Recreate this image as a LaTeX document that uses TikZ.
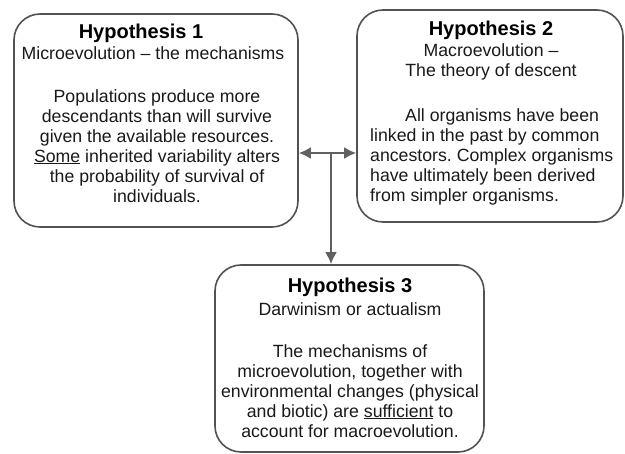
\documentclass[tikz,border=0pt]{standalone}
\usepackage{fontspec}
\setmainfont{Liberation Sans}
\usetikzlibrary{arrows.meta}
\frenchspacing
\begin{document}
\begin{tikzpicture}[x=1pt, y=-1pt, >={Latex[length=12pt,width=12pt]},
	hypbox/.style={draw=black!68, line width=1.6pt, rounded corners=26pt, inner sep=0pt},
	hyptitle/.style={anchor=base, inner sep=0pt, font=\fontsize{20}{22}\selectfont\bfseries},
	hyptext/.style={anchor=north, align=center, inner sep=0pt, text=black!90, font=\fontsize{17.7}{20}\selectfont},
	link/.style={draw=black!62, line width=2.2pt}]
	\useasboundingbox (0,0) rectangle (625,454);
	% the three boxes
	\node[hypbox, minimum width=284pt, minimum height=213pt] (h1) at (156,120.5) {};
	\node[hypbox, minimum width=266pt, minimum height=212pt] (h2) at (490,116) {};
	\node[hypbox, minimum width=269pt, minimum height=187pt] (h3) at (349.5,358.5) {};
	% hypothesis 1
	\node[hyptitle] (t1) at (141,39) {Hypothesis 1};
	\node[hyptext] (s1) at (153,46) {Microevolution -- the mechanisms};
	\node[hyptext] (b1) at (157,89) {Populations produce more\\
		descendants than will survive\\
		given the available resources.\\
		\underline{Some} inherited variability alters\\
		the probability of survival of\\
		individuals.};
	% hypothesis 2
	\node[hyptitle] (t2) at (491,36) {Hypothesis 2};
	\node[hyptext] (s2) at (491,43) {Macroevolution --\\ The theory of descent};
	\node[hyptext, anchor=north west, align=left] (b2) at (370,108) {\hspace*{35pt}All organisms have been\\
		linked in the past by common\\
		ancestors. Complex organisms\\
		have ultimately been derived\\
		from simpler organisms.};
	% hypothesis 3
	\node[hyptitle] (t3) at (350,293) {Hypothesis 3};
	\node[hyptext] (s3) at (350,302) {Darwinism or actualism};
	\node[hyptext] (b3) at (350,344) {The mechanisms of\\
		microevolution, together with\\
		environmental changes (physical\\
		and biotic) are \underline{sufficient} to\\
		account for macroevolution.};
	% connectors
	\coordinate (fork) at (331,153);
	\draw[link, <->] (h1.east |- fork) -- (h2.west |- fork);
	\draw[link, ->] (fork) -- (fork |- h3.north);
\end{tikzpicture}
\end{document}
